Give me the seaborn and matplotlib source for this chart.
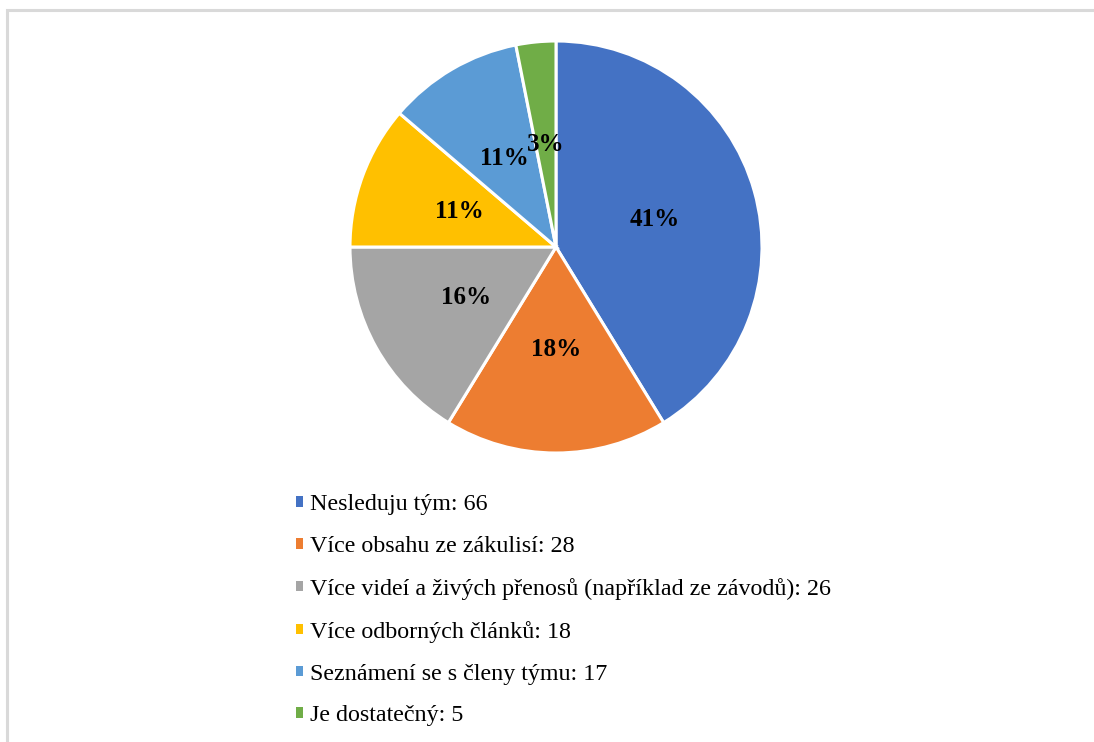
import numpy as np
import matplotlib.pyplot as plt
import seaborn as sns
from matplotlib.patches import Rectangle

# -----------------------------
# Data
# -----------------------------
categories = [
    "Nesleduju tým",
    "Více obsahu ze zákulisí",
    "Více videí a živých přenosů (například ze závodů)",
    "Více odborných článků",
    "Seznámení se s členy týmu",
    "Je dostatečný",
]
counts = [66, 28, 26, 18, 17, 5]
colors = ["#4472C4", "#ED7D31", "#A5A5A5", "#FFC000", "#5B9BD5", "#70AD47"]

sns.set_style("white")
plt.rcParams["font.family"] = ["Liberation Serif", "DejaVu Serif"]
plt.rcParams["text.color"] = "black"

W, H = 1094, 742
fig = plt.figure(figsize=(W / 100, H / 100), dpi=100)

# light gray frame (cut off at right and bottom)
fig.patches.append(Rectangle((7 / W, -0.05), 1.2, 1 - 10 / H + 0.05,
                             transform=fig.transFigure, fill=False,
                             edgecolor="#D9D9D9", linewidth=2.2))

# pie axes: centre (556, 247), radius 206 px
cx, cy, r = 556, 247, 206
ax = fig.add_axes([(cx - r) / W, (H - cy - r) / H, 2 * r / W, 2 * r / H])
wedges, _, autotexts = ax.pie(
    counts,
    colors=sns.color_palette(colors),
    startangle=90,
    counterclock=False,
    autopct=lambda p: f"{p:.0f}%",
    pctdistance=0.5,
    wedgeprops=dict(edgecolor="white", linewidth=2.2),
    textprops=dict(fontsize=18, fontweight="bold", color="black"),
)
ax.set_xlim(-1.0, 1.0)
ax.set_ylim(-1.0, 1.0)
ax.axis("off")

labels = [f"{c}: {n}" for c, n in zip(categories, counts)]
fig.legend(
    wedges, labels,
    loc="upper left",
    bbox_to_anchor=(296 / W, 1 - 494 / H),
    frameon=False,
    fontsize=17.3,
    handlelength=0.3,
    handleheight=0.3,
    handletextpad=0.3,
    labelspacing=0.87,
    borderpad=0,
    borderaxespad=0,
)
for h in fig.legends[0].legend_handles:
    h.set_edgecolor("none")

fig.savefig("out.png", dpi=100)
